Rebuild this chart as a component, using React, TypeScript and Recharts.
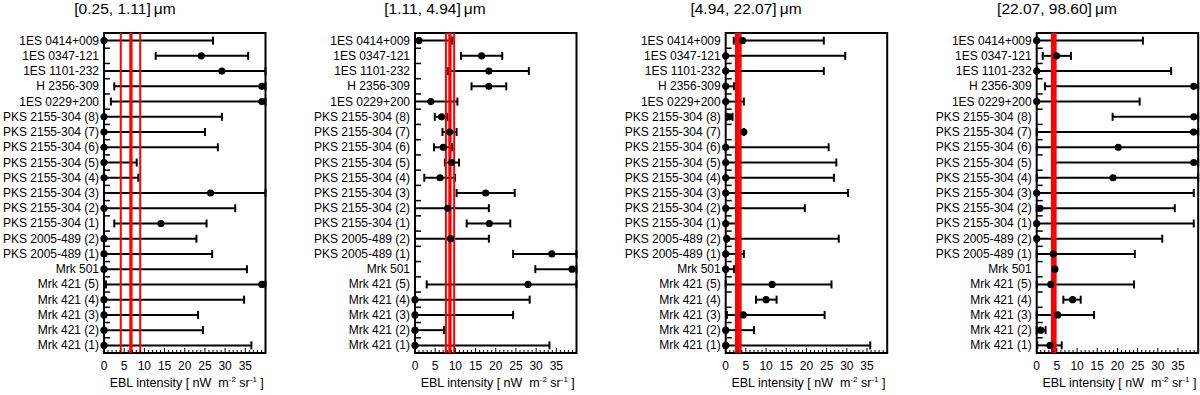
import { ScatterChart, Scatter, XAxis, YAxis, ErrorBar, ReferenceLine, ReferenceArea } from 'recharts'

// sources, top row first
const sources = [
  '1ES 0414+009', '1ES 0347-121', '1ES 1101-232', 'H 2356-309', '1ES 0229+200',
  'PKS 2155-304 (8)', 'PKS 2155-304 (7)', 'PKS 2155-304 (6)', 'PKS 2155-304 (5)',
  'PKS 2155-304 (4)', 'PKS 2155-304 (3)', 'PKS 2155-304 (2)', 'PKS 2155-304 (1)',
  'PKS 2005-489 (2)', 'PKS 2005-489 (1)', 'Mrk 501',
  'Mrk 421 (5)', 'Mrk 421 (4)', 'Mrk 421 (3)', 'Mrk 421 (2)', 'Mrk 421 (1)',
]

const bandTitles = ['[0.25, 1.11]', '[1.11, 4.94]', '[4.94, 22.07]', '[22.07, 98.60]']

// best value, lower and upper end of each error bar (40 = runs to the frame)
const val1 = [0, 24.1, 29.2, 39.1, 39.1, 0, 0, 0, 0, 0, 26.4, 0, 14.1, 0, 0, 0, 39.1, 0, 0, 0, 0]
const lo1 = [0, 12.8, 0, 2.55, 1.7, 0, 0, 0, 0, 0, 0, 0, 2.55, 0, 0, 0, 0.5, 0, 0, 0, 0]
const hi1 = [27.0, 35.7, 40, 40, 40, 29.2, 25.0, 28.2, 8.1, 8.5, 40, 32.5, 25.4, 22.9, 26.8, 35.4, 40, 34.7, 23.3, 24.5, 36.5]

const val2 = [1.0, 16.5, 18.3, 18.3, 3.9, 6.6, 8.6, 7.0, 9.1, 6.2, 17.5, 8.1, 18.4, 8.8, 33.9, 38.9, 28.0, 0, 0, 0, 0]
const lo2 = [0, 11.4, 8.2, 14.0, 0, 4.9, 6.8, 4.7, 7.4, 2.3, 10.3, 0, 12.8, 0, 24.3, 29.8, 2.9, 0, 0, 0, 0]
const hi2 = [9.2, 21.6, 28.2, 22.6, 10.5, 8.0, 10.3, 9.2, 10.9, 9.9, 24.7, 18.3, 23.6, 18.3, 40, 40, 40, 28.4, 24.3, 7.2, 33.3]

const val3 = [4.2, 0, 0, 0, 0, 0.9, 4.5, 0, 0, 0, 0, 0, 0, 0.25, 0, 0, 11.5, 10.0, 4.35, 0, 0]
const lo3 = [2.0, 0, 0, 0, 0, 0.3, 4.5, 0, 0, 0, 0, 0, 0, 0.25, 0, 0, 0, 7.5, 0.3, 0, 0]
const hi3 = [24.3, 29.6, 24.3, 2.05, 4.5, 1.7, 4.5, 25.5, 27.4, 26.8, 30.3, 19.6, 2.9, 28.0, 4.5, 2.05, 26.2, 12.6, 24.5, 7.0, 35.8]

const val4 = [0, 4.9, 0, 38.9, 0, 38.9, 38.9, 20.2, 38.9, 18.9, 0, 0.8, 0, 0, 4.1, 4.5, 3.5, 8.9, 5.2, 1.0, 3.3]
const lo4 = [0, 1.5, 0, 2.05, 0, 18.8, 0, 0, 3.95, 0, 0, 0, 0, 0, 0, 4.5, 0, 6.6, 0, 0, 0.15]
const hi4 = [26.3, 8.5, 33.3, 40, 25.5, 40, 40, 40, 40, 40, 38.9, 34.2, 38.9, 31.1, 24.3, 4.5, 24.1, 10.9, 14.2, 2.2, 6.2]

// red band: lower edge, central value, upper edge
const bandLow = [4.15, 7.66, 2.55, 3.78]
const bandMid = [6.67, 8.65, 3.1, 4.23]
const bandHigh = [8.97, 9.7, 3.7, 4.69]

const xLabels = [0, 5, 10, 15, 20, 25, 30, 35]
const xMinor = Array.from({ length: 40 }, (_, i) => i)
const yTicks = [
  ...sources.map((_, i) => i),
  ...sources.slice(1).map((_, i) => i + 0.5),
]

const panels = [
  { val: val1, lo: lo1, hi: hi1 },
  { val: val2, lo: lo2, hi: hi2 },
  { val: val3, lo: lo3, hi: hi3 },
  { val: val4, lo: lo4, hi: hi4 },
]

const FONT = '"Liberation Sans", Arial, Helvetica, sans-serif'
const W = 300
const H = 395
const PLOT_W = 161.5
const TOP = 33
const plotLeft = [104, 415, 725.7, 1036.7]

function XTick(props: any) {
  const { x, y, payload } = props
  const v = payload.value
  const major = xLabels.includes(v)
  return (
    <g>
      <line x1={x} x2={x} y1={y} y2={y - (major ? 5 : 3)} stroke="#000" strokeWidth={1} />
      {major && (
        <text x={x} y={y + 17} textAnchor="middle" fontSize={12} fontFamily={FONT} fill="#000">
          {v}
        </text>
      )}
    </g>
  )
}

function YTick(props: any) {
  const { x, y, payload } = props
  const v = payload.value
  if (Number.isInteger(v)) {
    return (
      <text x={x - 5} y={y + 4} textAnchor="end" fontSize={12} fontFamily={FONT} fill="#000">
        {sources[v]}
      </text>
    )
  }
  return <line x1={x} x2={x + 6} y1={y} y2={y} stroke="#000" strokeWidth={1.5} />
}

function Panel({ idx }: { idx: number }) {
  const p = panels[idx]
  const x0 = idx * W
  const yw = plotLeft[idx] - x0
  const data = sources.map((name, i) => ({
    name,
    row: i,
    v: p.val[i],
    err: [p.val[i] - p.lo[i], p.hi[i] - p.val[i]],
  }))

  return (
    <div style={{ position: 'absolute', left: x0, top: 0, width: W, height: H }}>
      <ScatterChart width={W} height={H} margin={{ top: TOP, right: W - yw - PLOT_W, bottom: 0, left: 0 }}>
        <XAxis
          xAxisId="main"
          type="number"
          dataKey="v"
          domain={[0, 40]}
          ticks={xMinor}
          interval={0}
          tickSize={0}
          tickMargin={0}
          tickLine={false}
          axisLine={false}
          height={42}
          tick={XTick}
        />
        <XAxis xAxisId="dot" type="number" dataKey="v" domain={[0, 40]} height={0} hide />
        <YAxis
          type="number"
          dataKey="row"
          domain={[-0.5, 20.5]}
          reversed
          ticks={yTicks}
          interval={0}
          width={yw}
          tickSize={0}
          tickMargin={0}
          tickLine={false}
          axisLine={false}
          tick={YTick}
        />
        <Scatter xAxisId="main" data={data} shape={() => <g />} isAnimationActive={false}>
          <ErrorBar dataKey="err" direction="x" width={4} strokeWidth={2} stroke="#000" />
        </Scatter>
        <ReferenceLine xAxisId="main" x={bandLow[idx]} stroke="#ff0000" strokeWidth={2} />
        <ReferenceLine xAxisId="main" x={bandHigh[idx]} stroke="#ff0000" strokeWidth={2} />
        <ReferenceLine xAxisId="main" x={bandMid[idx]} stroke="#ff0000" strokeWidth={3.3} />
        <Scatter
          xAxisId="dot"
          data={data}
          fill="#000"
          isAnimationActive={false}
          shape={(s: any) => <circle cx={s.cx} cy={s.cy} r={3.6} fill="#000" />}
        />
        <ReferenceArea
          xAxisId="main"
          x1={0}
          x2={40}
          y1={-0.5}
          y2={20.5}
          fill="none"
          fillOpacity={0}
          stroke="#000"
          strokeWidth={2}
          ifOverflow="visible"
        />
      </ScatterChart>
      <div
        style={{
          position: 'absolute',
          left: plotLeft[idx] - x0 + PLOT_W / 2 - 100 + 2,
          width: 200,
          top: 376,
          textAlign: 'center',
          fontFamily: FONT,
          fontSize: 12.5,
          lineHeight: '15px',
          whiteSpace: 'pre',
        }}
      >
        {'EBL intensity [ nW  m'}
        <span style={{ fontSize: 8, position: 'relative', top: -5 }}>-2</span>
        {' sr'}
        <span style={{ fontSize: 8, position: 'relative', top: -5 }}>-1</span>
        {' ]'}
      </div>
    </div>
  )
}

const titleCenters = [125, 435, 746, 1057]

export default function App() {
  return (
    <div style={{ position: 'absolute', left: 0, top: 0, width: 1200, height: 395, background: '#fff', overflow: 'hidden' }}>
      {bandTitles.map((t, i) => (
        <div
          key={t}
          style={{
            position: 'absolute',
            left: titleCenters[i] - 100,
            width: 200,
            top: 0,
            textAlign: 'center',
            fontFamily: FONT,
            fontSize: 15.5,
            lineHeight: '17px',
          }}
        >
          {t}{'\u2009'}μm
        </div>
      ))}
      {panels.map((_, i) => (
        <Panel key={i} idx={i} />
      ))}
    </div>
  )
}
